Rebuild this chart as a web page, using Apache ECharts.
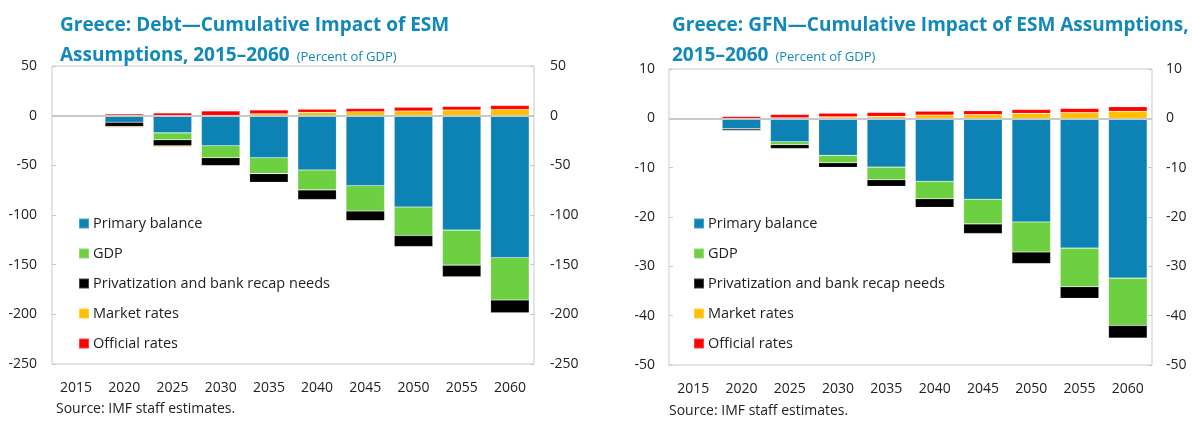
<!DOCTYPE html>
<html>
<head>
<meta charset="utf-8">
<script src="https://cdn.jsdelivr.net/npm/echarts@6/dist/echarts.min.js"></script>
<style>
  html, body { margin: 0; padding: 0; background: #fff; }
  #chart { width: 1192px; height: 422px; }
</style>
</head>
<body>
<div id="chart"></div>
<script>
// Years on the horizontal axis
const years = ['2015', '2020', '2025', '2030', '2035', '2040', '2045', '2050', '2055', '2060'];

// Debt: cumulative impact by component (percent of GDP)
const debtPrimary  = [0, -6.7, -17.3, -30.3, -42.3, -54.7, -70.5, -92.0, -115.2, -143.0];
const debtGdp      = [0, 0, -7.0, -12.0, -16.0, -20.0, -25.5, -28.7, -35.3, -42.6];
const debtPriv     = [0, -4.3, -6.0, -8.0, -8.7, -9.7, -9.7, -11.0, -11.7, -12.8];
const debtMarket   = [0, -1.0, -1.0, 0.3, 2.0, 3.3, 4.0, 4.7, 5.7, 6.2];
const debtOfficial = [0, 1.7, 2.7, 4.5, 3.7, 3.3, 3.3, 3.7, 3.7, 4.0];

// GFN: cumulative impact by component (percent of GDP)
const gfnPrimary  = [0, -2.1, -4.75, -7.5, -9.9, -12.75, -16.4, -21.0, -26.3, -32.4];
const gfnGdp      = [0, -0.05, -0.6, -1.5, -2.55, -3.55, -5.0, -6.1, -7.85, -9.6];
const gfnPriv     = [0, -0.35, -0.75, -0.95, -1.35, -1.75, -1.95, -2.35, -2.35, -2.55];
const gfnMarket   = [0, -0.15, 0.13, 0.3, 0.4, 0.67, 0.75, 1.0, 1.15, 1.45];
const gfnOfficial = [0, 0.4, 0.67, 0.75, 0.8, 0.8, 0.8, 0.8, 0.85, 0.9];

// Axis ranges and tick steps
const debtAxis = { min: -250, max: 50, interval: 50 };
const gfnAxis  = { min: -50, max: 10, interval: 10 };

const names  = ['Primary balance', 'GDP', 'Privatization and bank recap needs', 'Market rates', 'Official rates'];
const colors = ['#0D83B5', '#6DD041', '#000000', '#FFC000', '#FF0000'];

const FONT = "'Open Sans', 'Noto Sans', sans-serif";
const TEXT = '#222';
const TITLE = '#1189BA';
const FRAME = '#C9C9C9';

const chart = echarts.init(document.getElementById('chart'), null, { renderer: 'canvas' });

function seriesFor(gridIdx, stackName, sets) {
  return sets.map((data, i) => {
    const s = {
      name: names[i],
      type: 'bar',
      stack: stackName,
      xAxisIndex: gridIdx,
      yAxisIndex: gridIdx * 2,
      barCategoryGap: '20%',
      itemStyle: { color: colors[i], borderColor: 'rgba(255,255,255,0.25)', borderWidth: 0.6 },
      emphasis: { disabled: true },
      data: data
    };
    if (i === 0) {
      // zero reference line across the plot
      s.markLine = {
        silent: true,
        symbol: 'none',
        label: { show: false },
        lineStyle: { color: '#C8C8C8', width: 2, type: 'solid' },
        data: [{ yAxis: 0 }]
      };
    }
    return s;
  });
}

function xAxisFor(gridIdx) {
  return {
    type: 'category',
    gridIndex: gridIdx,
    data: years,
    boundaryGap: true,
    axisLine: { show: false },
    axisTick: { show: false },
    axisLabel: { color: TEXT, fontFamily: FONT, fontSize: 14, margin: 17 }
  };
}

function yAxesFor(gridIdx, range, leftMargin, rightMargin) {
  const base = {
    type: 'value',
    gridIndex: gridIdx,
    min: range.min, max: range.max, interval: range.interval,
    splitLine: { show: false },
    axisLine: { show: false },
    axisTick: { show: true, inside: true, length: 4, lineStyle: { color: FRAME } },
    axisLabel: { color: TEXT, fontFamily: FONT, fontSize: 14 }
  };
  return [
    Object.assign({}, base, { position: 'left', axisLabel: Object.assign({}, base.axisLabel, { margin: leftMargin }) }),
    Object.assign({}, base, { position: 'right', axisLabel: Object.assign({}, base.axisLabel, { margin: rightMargin }) })
  ];
}

function titleFor(left, line1, line2) {
  return {
    left: left, top: 6,
    text: '{b|' + line1 + '}\n{b|' + line2 + '} {n|(Percent of GDP)}',
    textStyle: {
      rich: {
        b: { fontFamily: FONT, fontWeight: 'bold', fontSize: 19, color: TITLE, lineHeight: 30 },
        n: { fontFamily: FONT, fontWeight: 'normal', fontSize: 13, color: TITLE, lineHeight: 30, padding: [3, 0, 0, 2] }
      }
    }
  };
}

function legendFor(left, top) {
  return {
    orient: 'vertical',
    left: left, top: top,
    itemWidth: 10, itemHeight: 10,
    itemGap: 15,
    icon: 'rect',
    selectedMode: false,
    data: names,
    textStyle: { color: TEXT, fontFamily: FONT, fontSize: 14.5, lineHeight: 15, padding: [0, 0, 0, -1] }
  };
}

const option = {
  animation: false,
  backgroundColor: '#fff',
  title: [
    titleFor(55, 'Greece: Debt\u2014Cumulative Impact of ESM', 'Assumptions, 2015\u20132060'),
    titleFor(667, 'Greece: GFN\u2014Cumulative Impact of ESM Assumptions,', '2015\u20132060')
  ],
  legend: [legendFor(73, 211), legendFor(688, 211)],
  grid: [
    { left: 52, top: 66, width: 482, height: 298, show: true, borderColor: FRAME, borderWidth: 1, backgroundColor: 'transparent' },
    { left: 669, top: 69, width: 483, height: 296, show: true, borderColor: FRAME, borderWidth: 1, backgroundColor: 'transparent' }
  ],
  xAxis: [xAxisFor(0), xAxisFor(1)],
  yAxis: yAxesFor(0, debtAxis, 15, 16).concat(yAxesFor(1, gfnAxis, 14, 14)),
  graphic: [
    { type: 'text', left: 56, top: 402, style: { text: 'Source: IMF staff estimates.', fill: TEXT, font: '14px ' + FONT } },
    { type: 'text', left: 669, top: 404, style: { text: 'Source: IMF staff estimates.', fill: TEXT, font: '14px ' + FONT } }
  ],
  series: seriesFor(0, 'debt', [debtPrimary, debtGdp, debtPriv, debtMarket, debtOfficial])
    .concat(seriesFor(1, 'gfn', [gfnPrimary, gfnGdp, gfnPriv, gfnMarket, gfnOfficial]))
};

chart.setOption(option);
</script>
</body>
</html>
